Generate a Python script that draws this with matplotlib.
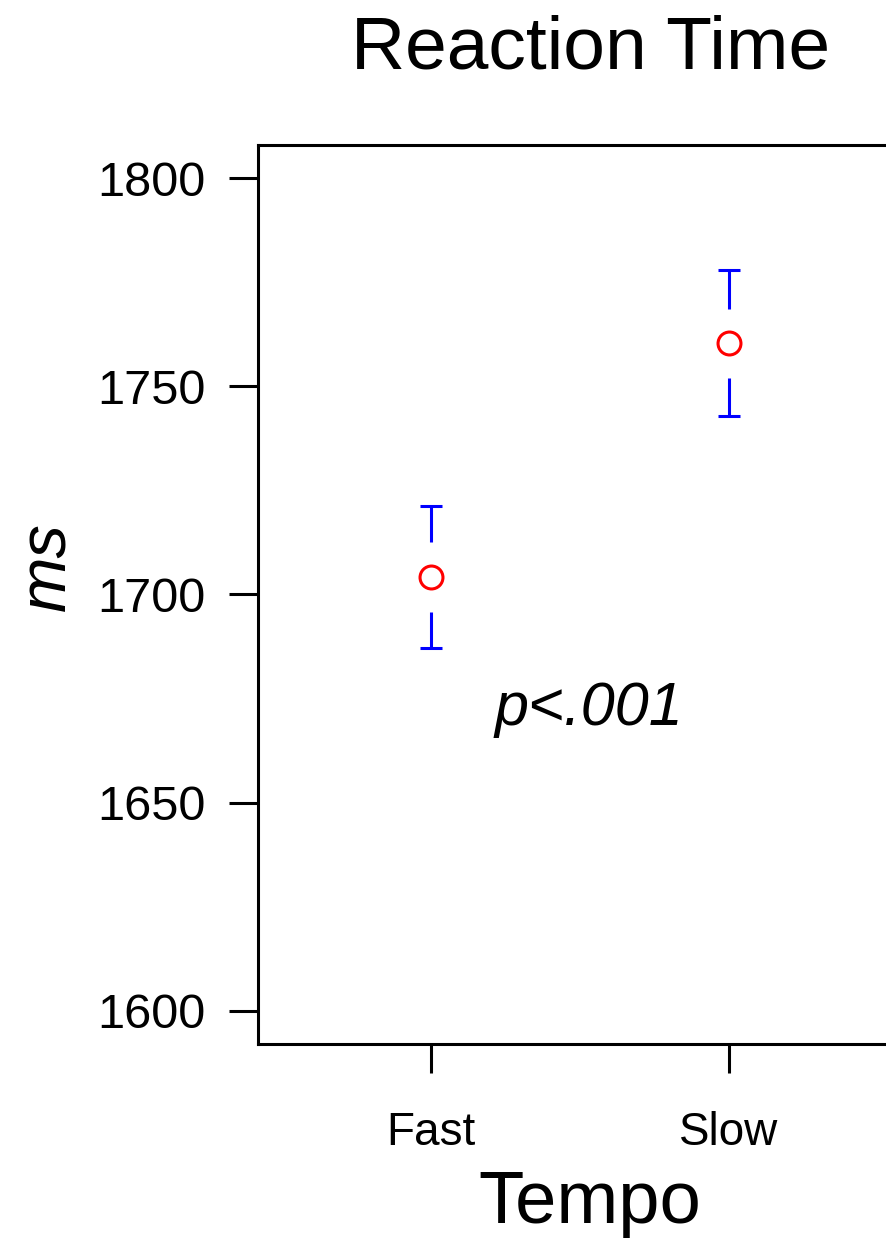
import matplotlib
matplotlib.use("Agg")
import matplotlib.pyplot as plt
import numpy as np

# Mean reaction time per tempo condition, with standard errors
conditions = ["Fast", "Slow"]
means = [1704.2, 1760.4]
errors = [17.1, 17.5]

plt.rcParams['font.family'] = ['Liberation Sans', 'DejaVu Sans']

fig = plt.figure(figsize=(8.87, 12.38), dpi=100)
ax = fig.add_axes([0.2909, 0.1567, 0.7260, 0.7262])

x = np.arange(1, len(conditions) + 1)
means = np.array(means)
errors = np.array(errors)
gap = 8.3  # leave room around the point marker

lw = 2.2
ax.vlines(x, means + gap, means + errors, color='blue', lw=lw)
ax.vlines(x, means - errors, means - gap, color='blue', lw=lw)
ax.plot(x, means + errors, ls='none', marker='_', ms=16, mew=lw, color='blue')
ax.plot(x, means - errors, ls='none', marker='_', ms=16, mew=lw, color='blue')
ax.plot(x, means, ls='none', marker='o', ms=16.5, mfc='none', mec='red', mew=lw)

ax.text(1.53, 1668.7, "p<.001", style='italic', fontsize=44,
        ha='center', va='baseline')

ax.set_xlim(0.42, 2.58)
ax.set_ylim(1592, 1808)
ax.set_xticks(x)
ax.set_xticklabels(conditions)
ax.set_yticks([1600, 1650, 1700, 1750, 1800])

for s in ax.spines.values():
    s.set_linewidth(lw)
ax.tick_params(axis='both', length=21, width=lw)
ax.tick_params(axis='y', pad=17, labelsize=35)
ax.tick_params(axis='x', pad=27, labelsize=33)

fig.text(0.054, 0.542, "ms", style='italic', fontsize=48, rotation=90,
         ha='center', va='center')
fig.text(0.666, 0.945, "Reaction Time", fontsize=54, ha='center', va='baseline')
fig.text(0.665, 0.0121, "Tempo", fontsize=53.5, ha='center', va='baseline')

fig.savefig("out.png", dpi=100)
